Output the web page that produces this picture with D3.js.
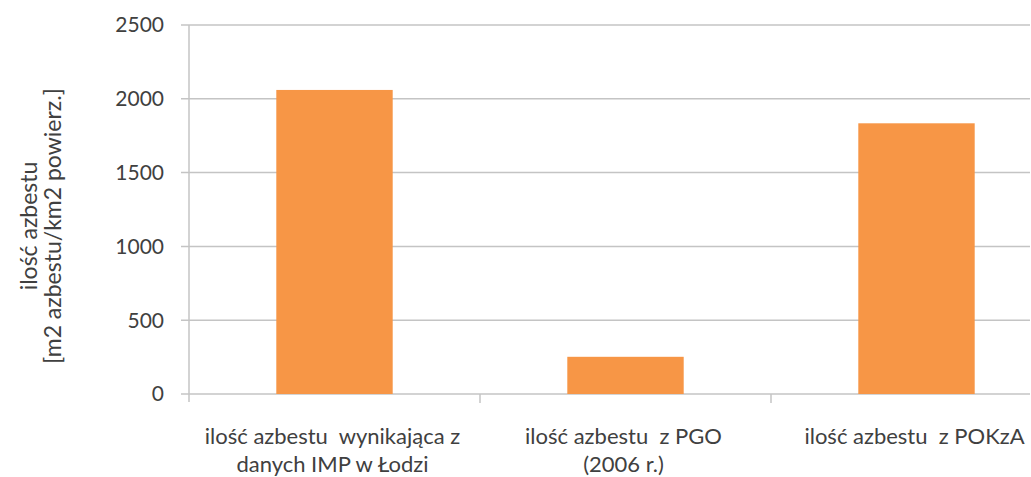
<!DOCTYPE html>
<html>
<head>
<meta charset="utf-8">
<script src="https://cdn.jsdelivr.net/npm/d3@7"></script>
<style>
  body { margin: 0; background: #fff; }
  svg text { font-family: Lato, "Open Sans", sans-serif; fill: #404040; }
</style>
</head>
<body>
<svg id="chart" width="1031" height="477"></svg>
<script>
const categories = [
  ['ilość azbestu  wynikająca z', 'danych IMP w Łodzi'],
  ['ilość azbestu  z PGO', '(2006 r.)'],
  ['ilość azbestu  z POKzA']
];
const values = [2060, 252, 1834];
const yTicks = [0, 500, 1000, 1500, 2000, 2500];
const yTitle = ['ilość azbestu', '[m2 azbestu/km2 powierz.]'];

const plotLeft = 189, plotRight = 1062, plotTop = 25, plotBottom = 394;
const gridEnd = 1030;

const svg = d3.select('#chart');

const x = d3.scaleBand().domain(d3.range(categories.length)).range([plotLeft, plotRight])
  .paddingInner(0).paddingOuter(0);
const y = d3.scaleLinear().domain([0, 2500]).range([plotBottom, plotTop]);
const barW = x.bandwidth() * 0.4;

// gridlines + y labels
const yAxis = svg.append('g');
yAxis.selectAll('line').data(yTicks).enter().append('line')
  .attr('x1', plotLeft - 8).attr('x2', gridEnd)
  .attr('y1', d => y(d)).attr('y2', d => y(d))
  .attr('stroke', '#c4c4c4').attr('stroke-width', 1.5);
yAxis.selectAll('text').data(yTicks).enter().append('text')
  .attr('x', plotLeft - 25).attr('y', d => y(d)).attr('dy', '0.35em')
  .attr('text-anchor', 'end').style('font-size', '21px')
  .text(d => d);

// vertical axis line
svg.append('line').attr('x1', plotLeft).attr('x2', plotLeft)
  .attr('y1', plotTop).attr('y2', plotBottom + 8)
  .attr('stroke', '#c4c4c4').attr('stroke-width', 1.5);

// category ticks
svg.selectAll('.ctick').data(d3.range(1, categories.length)).enter().append('line')
  .attr('class', 'ctick')
  .attr('x1', d => x(d)).attr('x2', d => x(d))
  .attr('y1', plotBottom).attr('y2', plotBottom + 9)
  .attr('stroke', '#c4c4c4').attr('stroke-width', 1.5);

// bars
svg.selectAll('.bar').data(values).enter().append('rect')
  .attr('class', 'bar')
  .attr('x', (d, i) => x(i) + (x.bandwidth() - barW) / 2)
  .attr('width', barW)
  .attr('y', d => y(d))
  .attr('height', d => y(0) - y(d))
  .attr('fill', '#f79646');

// category labels
const cl = svg.selectAll('.clabel').data(categories).enter().append('text')
  .attr('class', 'clabel')
  .attr('text-anchor', 'middle').style('font-size', '22px')
  .attr('transform', (d, i) => `translate(${x(i) + x.bandwidth() / 2 - 2},444)`);
cl.selectAll('tspan').data(d => d).enter().append('tspan')
  .attr('x', 0).attr('dy', (d, i) => i === 0 ? 0 : 28)
  .style('white-space', 'pre')
  .text(d => d);

// y title
const yt = svg.append('text')
  .attr('transform', 'translate(37,226) rotate(-90)')
  .attr('text-anchor', 'middle').style('font-size', '23px');
yt.selectAll('tspan').data(yTitle).enter().append('tspan')
  .attr('x', 0).attr('dy', (d, i) => i === 0 ? 0 : 24)
  .text(d => d);
</script>
</body>
</html>
